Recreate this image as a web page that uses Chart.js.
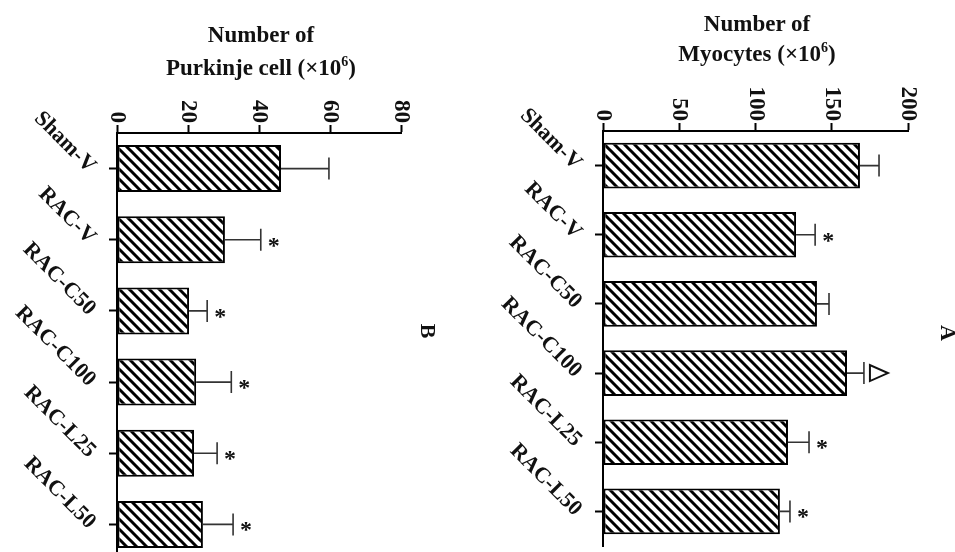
<!DOCTYPE html>
<html>
<head>
<meta charset="utf-8">
<script src="https://cdn.jsdelivr.net/npm/chart.js@4.4.0/dist/chart.umd.min.js"></script>
<style>
  html, body { margin: 0; padding: 0; background: #fff; overflow: hidden; width: 955px; height: 552px; }
  canvas { position: absolute; top: 0; }
  .ttl { position: absolute; width: 320px; text-align: center; font: bold 23px "Liberation Serif", serif; color: #111; }
  .ttl sup { font-size: 14px; line-height: 0; vertical-align: 9px; }
  .lt { position: absolute; font: bold 22px "Liberation Serif", serif; color: #111; transform: rotate(90deg); }
</style>
</head>
<body>
<canvas id="chartB" width="470" height="570" style="left:0px"></canvas>
<canvas id="chartA" width="475" height="570" style="left:480px"></canvas>

<div class="ttl" style="left:101px; top:18px; line-height:33px;">Number of<br>Purkinje cell (×10<sup>6</sup>)</div>
<div class="ttl" style="left:597px; top:9px; line-height:30px;">Number of<br>Myocytes (×10<sup>6</sup>)</div>
<div class="lt" style="left:421px; top:318px;">B</div>
<div class="lt" style="left:940px; top:320px;">A</div>

<script>
// groups (same for both panels)
const categories = ['Sham-V', 'RAC-V', 'RAC-C50', 'RAC-C100', 'RAC-L25', 'RAC-L50'];

// panel B - Purkinje cell
const purkinjeMeans = [46.2, 30.4, 20.3, 22.3, 21.7, 24.2];
const purkinjeErrors = [13.5, 10.1, 5.1, 9.9, 6.5, 8.5];
const purkinjeMarks = ['', '*', '*', '*', '*', '*'];
const purkinjeTicks = [0, 20, 40, 60, 80];

// panel A - Myocytes
const myocyteMeans = [168.5, 126.6, 140.3, 160, 121.3, 116];
const myocyteErrors = [12.5, 12.5, 7.9, 11.1, 13.8, 6.6];
const myocyteMarks = ['', '*', '', 'tri', '*', '*'];
const myocyteTicks = [0, 50, 100, 150, 200];

// hatch pattern "\\\\"
function hatch() {
    const c = document.createElement('canvas');
    c.width = 10; c.height = 10;
    const g = c.getContext('2d');
    g.fillStyle = '#fff';
    g.fillRect(0, 0, 10, 10);
    g.strokeStyle = '#000';
    g.lineWidth = 3;
    g.beginPath();
    g.moveTo(-2, -2); g.lineTo(12, 12);
    g.moveTo(-12, -2); g.lineTo(2, 12);
    g.moveTo(8, -2); g.lineTo(22, 12);
    g.stroke();
    return g.createPattern(c, 'repeat');
}

const serif = '"Liberation Serif", "Times New Roman", serif';

// error bars, marks and rotated labels
const decor = {
    id: 'decor',
    afterDatasetsDraw(chart, args, opts) {
        const ctx = chart.ctx;
        const xs = chart.scales.x, ys = chart.scales.y;
        ctx.save();
        opts.means.forEach((m, i) => {
            const x0 = xs.getPixelForValue(m);
            const x1 = xs.getPixelForValue(m + opts.errors[i]);
            const y = ys.getPixelForValue(i);
            ctx.strokeStyle = '#333';
            ctx.lineWidth = 1.6;
            ctx.beginPath();
            ctx.moveTo(x0, y); ctx.lineTo(x1, y);
            ctx.moveTo(x1, y - 11); ctx.lineTo(x1, y + 11);
            ctx.stroke();
            const mk = opts.marks[i];
            if (mk === '*') {
                ctx.fillStyle = '#111';
                ctx.font = 'bold 24px ' + serif;
                ctx.textAlign = 'center';
                ctx.textBaseline = 'alphabetic';
                ctx.fillText('*', x1 + 13, y + 13);
            } else if (mk === 'tri') {
                ctx.strokeStyle = '#111';
                ctx.lineWidth = 2;
                ctx.beginPath();
                ctx.moveTo(x1 + 6, y - 8);
                ctx.lineTo(x1 + 6, y + 8);
                ctx.lineTo(x1 + 24, y);
                ctx.closePath();
                ctx.stroke();
            }
        });

        // value ticks, rotated 90 deg
        ctx.fillStyle = '#111';
        ctx.font = 'bold 23px ' + serif;
        xs.ticks.forEach(t => {
            const x = xs.getPixelForValue(t.value);
            ctx.save();
            ctx.translate(x, xs.top - 2);
            ctx.rotate(Math.PI / 2);
            ctx.textAlign = 'right';
            ctx.textBaseline = 'middle';
            ctx.fillText(String(t.value), 0, 0);
            ctx.restore();
        });

        // category labels at 45 deg
        ctx.font = 'bold 22px ' + serif;
        categories.forEach((c, i) => {
            const y = ys.getPixelForValue(i);
            ctx.save();
            ctx.translate(ys.right - 25, y + 1);
            ctx.rotate(Math.PI / 4);
            ctx.textAlign = 'right';
            ctx.textBaseline = 'middle';
            ctx.fillText(c, 0, 0);
            ctx.restore();
        });
        ctx.restore();
    }
};

function makeChart(id, means, errors, marks, ticks, padding) {
    const ctx = document.getElementById(id).getContext('2d');
    return new Chart(ctx, {
        type: 'bar',
        data: {
            labels: categories,
            datasets: [{
                data: means,
                backgroundColor: hatch(),
                borderColor: '#000',
                borderWidth: 2,
                borderSkipped: false,
                barPercentage: 0.66,
                categoryPercentage: 1
            }]
        },
        options: {
            indexAxis: 'y',
            responsive: false,
            animation: false,
            devicePixelRatio: 1,
            layout: { padding: padding },
            plugins: {
                legend: { display: false },
                tooltip: { enabled: false },
                decor: { means: means, errors: errors, marks: marks }
            },
            scales: {
                x: {
                    position: 'top',
                    min: ticks[0],
                    max: ticks[ticks.length - 1],
                    ticks: { display: false, stepSize: ticks[1] - ticks[0] },
                    grid: { drawOnChartArea: false, tickLength: 8, tickWidth: 2, tickColor: '#000' },
                    border: { color: '#000', width: 2 }
                },
                y: {
                    ticks: { display: false },
                    grid: { drawOnChartArea: false, offset: false, tickLength: 8, tickWidth: 2, tickColor: '#000' },
                    border: { color: '#000', width: 2 }
                }
            }
        },
        plugins: [decor]
    });
}

makeChart('chartB', purkinjeMeans, purkinjeErrors, purkinjeMarks, purkinjeTicks,
    { left: 109, top: 125, right: 69, bottom: 10 });
makeChart('chartA', myocyteMeans, myocyteErrors, myocyteMarks, myocyteTicks,
    { left: 115, top: 123, right: 47, bottom: 24 });
</script>
</body>
</html>
